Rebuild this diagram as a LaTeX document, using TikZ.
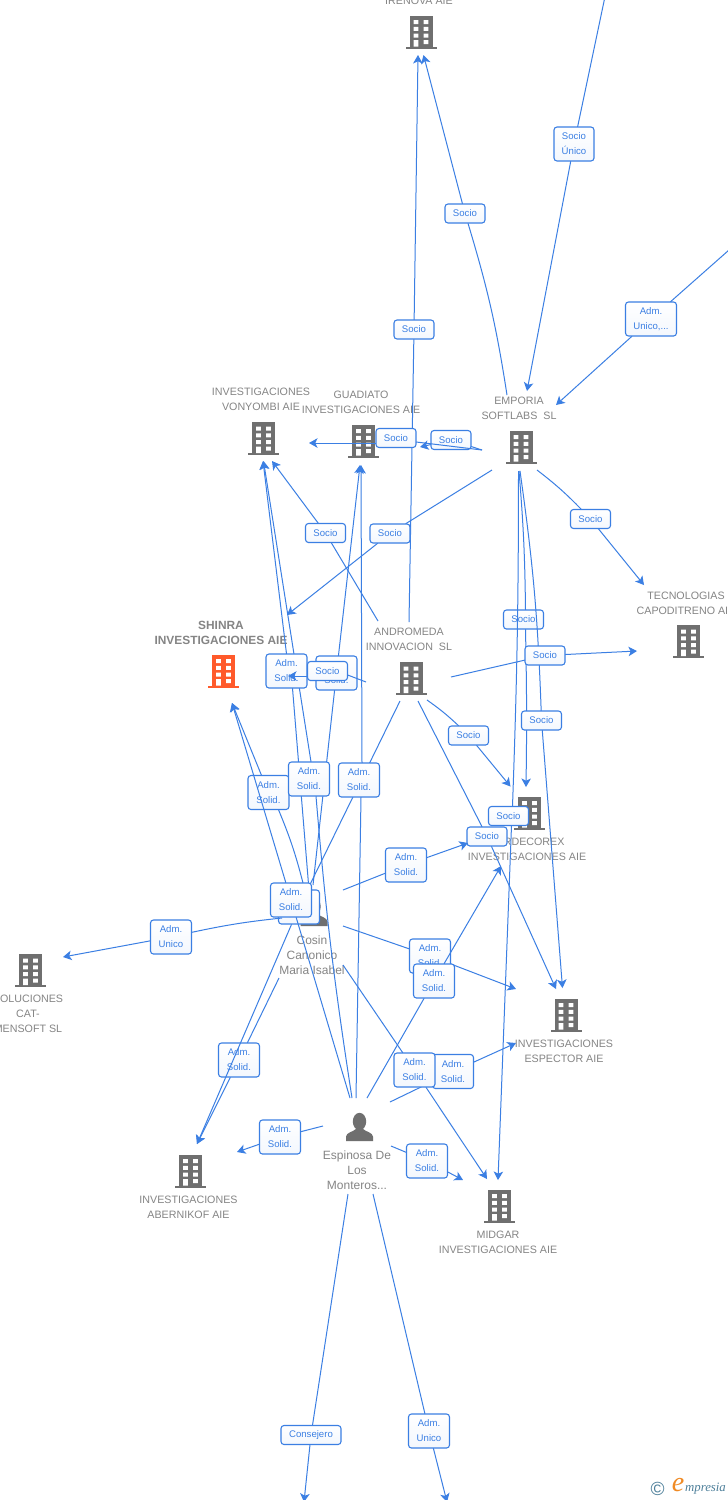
\documentclass[tikz,border=0pt]{standalone}
\usepackage{fontspec}
\setmainfont{Liberation Sans}
\newfontfamily\logofont{Liberation Serif}
\usetikzlibrary{arrows.meta}
\definecolor{linkblue}{HTML}{3B7FE3}
\definecolor{icongray}{HTML}{6F6F6F}
\definecolor{textgray}{HTML}{858585}
\definecolor{hot}{HTML}{FF5A2B}
\definecolor{logoblue}{HTML}{4D7F9A}
\definecolor{logoorange}{HTML}{F08A24}
\tikzset{
  ent/.style={align=center,inner sep=0pt,text=textgray,font=\fontsize{10.7}{15}\selectfont},
  entbig/.style={align=center,inner sep=0pt,text=textgray,font=\fontsize{12}{15.3}\selectfont},
  conn/.style={draw=linkblue,line width=1pt},
  connarr/.style={conn,-{Stealth[length=8.5pt,width=9.5pt,inset=2.2pt]}},
  labbase/.style={rectangle,rounded corners=3pt,inner sep=0pt,align=center},
  labbox/.style={labbase,draw=linkblue,line width=1.1pt,top color=white,bottom color=white!94!linkblue,
    text=linkblue,font=\fontsize{9.6}{15}\selectfont},
  pics/building/.style={code={
    \fill[#1] (-11.5,-16.5) rectangle (11.5,15.2);
    \fill[#1] (-15.5,14.6) rectangle (15.5,16.8);
    \fill[white] (-7.4,-11.8) rectangle (-2.6,-7.9) (2.6,-11.8) rectangle (7.4,-7.9)
      (-7.4,-5.1) rectangle (-2.6,-1.2) (2.6,-5.1) rectangle (7.4,-1.2)
      (-7.4,1.5) rectangle (-2.6,5.5) (2.6,1.5) rectangle (7.4,5.5)
      (-7.4,8.2) rectangle (-2.6,14.6) (2.6,8.2) rectangle (7.4,12.1);
  }},
  pics/person/.style={code={
    \fill[#1] (0,-5.5) ellipse (6.7 and 8.7);
    \fill[#1] (-13.5,14) -- (-13.5,9.5) .. controls (-13,5.5) and (-7,5) .. (-3.5,2) -- (3.5,2)
      .. controls (7,5) and (13,5.5) .. (13.5,9.5) -- (13.5,14) -- cycle;
  }},
}
% label geometry first (empty), visible face later, so any stacking order is possible
\newcommand{\deflab}[5]{%
  \node[labbase,minimum width=#3pt,minimum height=#4pt] (#1) at (#2) {};%
  \expandafter\gdef\csname lt#1\endcsname{#5}%
  \expandafter\gdef\csname lw#1\endcsname{#3}%
  \expandafter\gdef\csname lh#1\endcsname{#4}}
\newcommand{\showlab}[1]{%
  \node[labbox,minimum width=\csname lw#1\endcsname pt,minimum height=\csname lh#1\endcsname pt]
    (#1face) at (#1.center) {\csname lt#1\endcsname};}
% id, start, bend opts, label entry, bend opts, label exit, end
\newcommand{\via}[7]{%
  \coordinate (#1from) at (#2);
  \coordinate (#1to) at (#7);
  \draw[conn] (#1from) to[#3] (#4);
  \draw[connarr] (#6) to[#5] (#1to);}
\begin{document}
\begin{tikzpicture}[x=1pt,y=-1pt]
\useasboundingbox (0,0) rectangle (728,1500);
\fill[white] (0,0) rectangle (728,1500);

% entities
\pic (iconirenova) at (421,32) {building=icongray};
\node[ent] (irenova) at (419,1) {IRENOVA AIE};
\pic (iconvonyombi) at (263.5,438.5) {building=icongray};
\node[ent] (vonyombi) at (261,399.5) {INVESTIGACIONES\\VONYOMBI AIE};
\pic (iconguadiato) at (363.5,441) {building=icongray};
\node[ent] (guadiato) at (361,402.5) {GUADIATO\\INVESTIGACIONES AIE};
\pic (iconemporia) at (521,447) {building=icongray};
\node[ent] (emporia) at (519,408.5) {EMPORIA\\SOFTLABS\ \ SL};
\pic (iconshinra) at (223.5,671) {building=hot};
\node[ent,font=\fontsize{11.9}{15}\selectfont\bfseries] (shinra) at (221,632.5) {SHINRA\\INVESTIGACIONES AIE};
\pic (iconandromeda) at (411,678.5) {building=icongray};
\node[ent] (andromeda) at (409,639.5) {ANDROMEDA\\INNOVACION\ \ SL};
\pic (icontecno) at (688.5,641.5) {building=icongray};
\node[ent] (tecno) at (686,603.5) {TECNOLOGIAS\\CAPODITRENO AIE};
\pic (iconverde) at (529.5,813) {building=icongray};
\node[ent] (verde) at (527,849.5) {VERDECOREX\\INVESTIGACIONES AIE};
\pic (iconespector) at (566,1015) {building=icongray};
\node[ent] (espector) at (564,1051.5) {INVESTIGACIONES\\ESPECTOR AIE};
\pic (iconmidgar) at (499.5,1206) {building=icongray};
\node[ent] (midgar) at (498,1242.5) {MIDGAR\\INVESTIGACIONES AIE};
\pic (iconabernikof) at (190.5,1171) {building=icongray};
\node[ent] (abernikof) at (188.5,1207.5) {INVESTIGACIONES\\ABERNIKOF AIE};
\pic (iconsoluciones) at (30.5,970.5) {building=icongray};
\node[ent] (soluciones) at (28,1014) {SOLUCIONES\\CAT-\\MENSOFT SL};
\pic (iconcosin) at (314,912) {person=icongray};
\node[entbig] (cosin) at (312,955) {Cosin\\Canonico\\Maria Isabel};
\pic (iconespinosa) at (359.5,1127) {person=icongray};
\node[entbig] (espinosa) at (357,1170) {Espinosa De\\Los\\Monteros...};

% label geometry
\deflab{lA}{574,144}{40}{34}{Socio\\Único}
\deflab{lB}{651,319}{51}{34}{Adm.\\Unico,...}
\deflab{lC}{465,213.5}{40}{19}{Socio}
\deflab{lD}{414,329.5}{40}{19}{Socio}
\deflab{lE}{396,438}{40}{19}{Socio}
\deflab{lF}{451,440}{40}{19}{Socio}
\deflab{lG}{390,533.5}{40}{19}{Socio}
\deflab{lH}{325.5,533}{40}{19}{Socio}
\deflab{lI}{590.5,519}{40}{19}{Socio}
\deflab{lJ}{523.5,619.5}{40}{19}{Socio}
\deflab{lK}{545,655.5}{40}{19}{Socio}
\deflab{lL}{541.5,720.5}{40}{19}{Socio}
\deflab{lM}{468.5,735.5}{40}{19}{Socio}
\deflab{lN}{508.5,816}{40}{19}{Socio}
\deflab{lO}{487,836.5}{40}{19}{Socio}
\deflab{lP}{327.5,671}{40}{19}{Socio}
\deflab{sA}{286.5,671}{41}{34}{Adm.\\Solid.}
\deflab{sB}{336.5,673}{41}{34}{Adm.\\Solid.}
\deflab{sC}{268.5,792.5}{41}{34}{Adm.\\Solid.}
\deflab{sD}{309,779}{41}{34}{Adm.\\Solid.}
\deflab{sE}{359,780}{41}{34}{Adm.\\Solid.}
\deflab{sF}{299,907}{41}{34}{Adm.\\Solid.}
\deflab{sG}{291,900}{41}{34}{Adm.\\Solid.}
\deflab{sH}{406,865}{41}{34}{Adm.\\Solid.}
\deflab{sI}{430,956}{41}{34}{Adm.\\Solid.}
\deflab{sJ}{434,981}{41}{34}{Adm.\\Solid.}
\deflab{sK}{414.5,1070}{41}{34}{Adm.\\Solid.}
\deflab{sL}{453,1071.5}{41}{34}{Adm.\\Solid.}
\deflab{sM}{239,1060}{41}{34}{Adm.\\Solid.}
\deflab{sN}{280,1137}{41}{34}{Adm.\\Solid.}
\deflab{sO}{427,1161}{41}{34}{Adm.\\Solid.}
\deflab{uA}{171,937}{41}{34}{Adm.\\Unico}
\deflab{uB}{429,1431}{41}{34}{Adm.\\Unico}
\deflab{cA}{311,1435}{60}{19}{Consejero}

% connectors and label faces, in stacking order
\via{eA}{604.5,-1}{}{lA}{}{lA}{527,391}\showlab{lA}
\via{eB}{729,250}{}{lB}{}{lB}{556,405}\showlab{lB}
\via{eC}{507,395}{bend right=4}{lC}{}{lC}{423.5,55}\showlab{lC}
\via{eD}{409,622}{}{lD}{}{lD}{418,55}\showlab{lD}
\via{eF}{482,450}{}{lF}{}{lF}{420,447}\showlab{lF}
\via{eE}{482,450}{}{[yshift=-4pt]lE.east}{}{[yshift=-5pt]lE.west}{309,443}\showlab{lE}
\via{eG}{492,470}{}{lG}{}{lG}{287,615}\showlab{lG}
\via{eH}{378,621}{}{lH}{}{lH}{272,461}\showlab{lH}
\via{eI}{537,470}{bend left=4}{lI}{}{lI}{644,585}\showlab{lI}
\via{eJ}{519,471}{bend left=2}{[xshift=2pt]lJ.north}{bend left=1}{[xshift=2pt]lJ.south}{526,787}\showlab{lJ}
\via{eL}{520,471}{bend left=3}{lL}{}{lL}{562.5,988}\showlab{lL}
\via{eK}{451,677}{}{lK}{}{lK}{637,651}\showlab{lK}
\via{eN}{518.5,471}{bend left=1}{[xshift=4pt]lN.north}{}{[xshift=3pt]lN.south}{498,1180}\showlab{lN}
\via{eM}{427,700}{bend left=4}{lM}{}{lM}{510.5,786.5}\showlab{lM}
\via{eO}{418,701}{}{lO}{}{lO}{556,989}\showlab{lO}

\via{eK2}{343,965}{}{sK}{}{sK}{487,1179}
\via{eL2}{390,1102}{}{sL}{}{sL}{516,1043}\showlab{sL}\showlab{sK}
\via{eI2}{343,926}{}{sI}{}{sI}{516,989}\showlab{sI}
\via{eJ2}{367,1098}{}{sJ}{}{sJ}{501,866}\showlab{sJ}
\via{eH2}{343,890}{}{sH}{}{sH}{468,843}\showlab{sH}
\via{eM2}{279,978}{}{sM}{}{sM}{197,1144}\showlab{sM}
\via{eF2}{400,701}{}{sF}{}{sF}{197,1144}\showlab{sF}
\via{eC2}{303,883}{bend right=4}{[xshift=10pt]sC.south}{}{sC}{232,703}\showlab{sC}
\via{eA2}{309,890}{}{[xshift=6pt]sA.south}{}{sA.north}{263,461}
\via{eB2}{313,885}{}{sB}{}{sB}{360,465}
\via{eD2}{352,1098}{bend left=2}{[xshift=7pt]sD.south}{}{[xshift=2pt]sD.north}{263.5,461}
\showlab{sA}\showlab{sB}\showlab{sD}
\via{eP}{366,682}{}{[yshift=-4pt]lP.east}{}{[yshift=-5pt]lP.west}{288,676}\showlab{lP}
\via{eE2}{356,1098}{}{[xshift=2pt]sE.south}{}{[xshift=3pt]sE.north}{361,465}\showlab{sE}
\via{eG2}{350,1098}{}{sG}{}{sG}{232,703}\showlab{sG}
\via{eN2}{323,1126}{}{sN}{}{sN}{237,1152}\showlab{sN}
\via{eO2}{391,1146}{}{sO}{}{sO}{463,1180}\showlab{sO}
\via{eU}{282,918}{bend right=3}{uA}{}{uA}{63,957}\showlab{uA}
\via{eV}{373,1194}{}{uB}{}{uB}{447,1502}\showlab{uB}
\via{eW}{348,1194}{}{cA}{}{cA}{304,1502}\showlab{cA}

% logo
\node[inner sep=0pt,text=logoblue,font=\fontsize{19}{19}\selectfont] (logoc) at (657.5,1488.5) {©};
\node[inner sep=0pt,text=logoorange,font=\logofont\fontsize{28}{28}\selectfont\itshape] (logoe) at (678,1485) {e};
\node[inner sep=0pt,text=logoblue,font=\logofont\fontsize{12.8}{13}\selectfont\itshape] (logot) at (705.5,1489) {mpresia};
\end{tikzpicture}
\end{document}
